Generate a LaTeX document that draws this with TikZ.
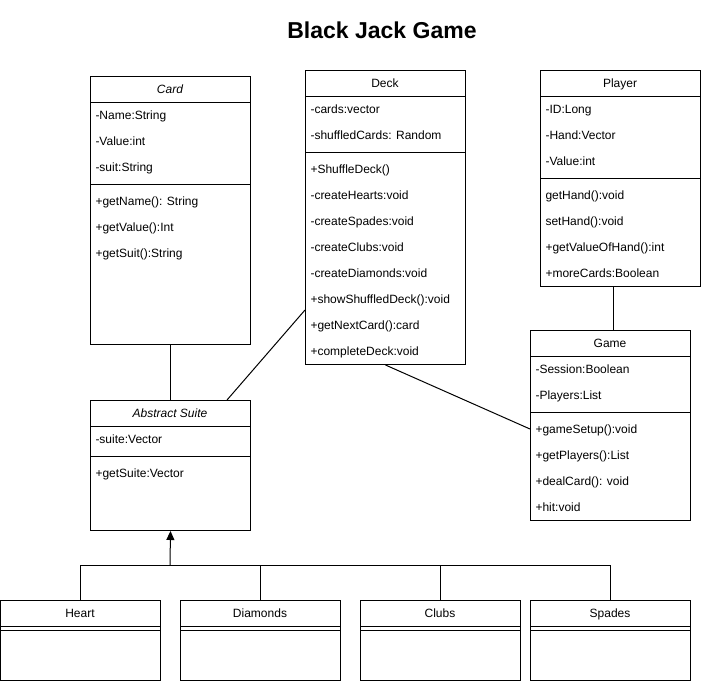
\documentclass[tikz,border=0pt]{standalone}
\usepackage{fontspec}
\setmainfont{Liberation Sans}
\usetikzlibrary{%
	calc,%
	arrows.meta
}

\begin{document}
\begin{tikzpicture}[x=1pt,y=-1pt,line width=1pt,
	classbox/.style={draw, anchor=north west, minimum width=160pt, inner sep=0pt},
	headtext/.style={inner sep=0pt, text height=9.6pt, text depth=1.6pt, font=\fontsize{12}{14}\selectfont},
	rowtext/.style={anchor=west, inner sep=0pt, text height=9.6pt, text depth=1.6pt, font=\fontsize{12}{14}\selectfont}]
	\useasboundingbox (0,0) rectangle (701,681);
	
	% Title
	\node[font=\bfseries\fontsize{23}{28}\selectfont] (title) at (382,30) {Black Jack Game};
	
	% Card
	\node[classbox, minimum height=268pt] (card) at (90,76) {};
	\node[headtext] (cardname) at (170,89) {\itshape Card};
	\draw (90,102) -- (250,102);
	\draw (90,184) -- (250,184);
	\foreach \t [count=\i] in {-Name:String, -Value:int, -suit:String} {
		\pgfmathsetmacro\yrow{115+26*(\i-1)}
		\node[rowtext] (carda\i) at (95,\yrow) {\t};
	}
	\foreach \t [count=\i] in {+getName(): String, +getValue():Int, +getSuit():String} {
		\pgfmathsetmacro\yrow{201+26*(\i-1)}
		\node[rowtext] (cardm\i) at (95,\yrow) {\t};
	}
	
	% Deck
	\node[classbox, minimum height=294pt] (deck) at (305,70) {};
	\node[headtext] (deckname) at (385,83) {Deck};
	\draw (305,96) -- (465,96);
	\draw (305,152) -- (465,152);
	\foreach \t [count=\i] in {-cards:vector, -shuffledCards: Random} {
		\pgfmathsetmacro\yrow{109+26*(\i-1)}
		\node[rowtext] (decka\i) at (310,\yrow) {\t};
	}
	\foreach \t [count=\i] in {+ShuffleDeck(), -createHearts:void, -createSpades:void,
		-createClubs:void, -createDiamonds:void, +showShuffledDeck():void,
		+getNextCard():card, +completeDeck:void} {
		\pgfmathsetmacro\yrow{169+26*(\i-1)}
		\node[rowtext] (deckm\i) at (310,\yrow) {\t};
	}
	
	% Player
	\node[classbox, minimum height=216pt] (player) at (540,70) {};
	\node[headtext] (playername) at (620,83) {Player};
	\draw (540,96) -- (700,96);
	\draw (540,178) -- (700,178);
	\foreach \t [count=\i] in {-ID:Long, -Hand:Vector, -Value:int} {
		\pgfmathsetmacro\yrow{109+26*(\i-1)}
		\node[rowtext] (playera\i) at (545,\yrow) {\t};
	}
	\foreach \t [count=\i] in {getHand():void, setHand():void, +getValueOfHand():int, +moreCards:Boolean} {
		\pgfmathsetmacro\yrow{195+26*(\i-1)}
		\node[rowtext] (playerm\i) at (545,\yrow) {\t};
	}
	
	% Game
	\node[classbox, minimum height=190pt] (game) at (530,330) {};
	\node[headtext] (gamename) at (610,343) {Game};
	\draw (530,356) -- (690,356);
	\draw (530,412) -- (690,412);
	\foreach \t [count=\i] in {-Session:Boolean, -Players:List} {
		\pgfmathsetmacro\yrow{369+26*(\i-1)}
		\node[rowtext] (gamea\i) at (535,\yrow) {\t};
	}
	\foreach \t [count=\i] in {+gameSetup():void, +getPlayers():List, +dealCard(): void, +hit:void} {
		\pgfmathsetmacro\yrow{429+26*(\i-1)}
		\node[rowtext] (gamem\i) at (535,\yrow) {\t};
	}
	
	% Abstract Suite
	\node[classbox, minimum height=130pt] (suite) at (90,400) {};
	\node[headtext] (suitename) at (170,413) {\itshape Abstract Suite};
	\draw (90,426) -- (250,426);
	\draw (90,456) -- (250,456);
	\node[rowtext] (suitea1) at (95,439) {-suite:Vector};
	\node[rowtext] (suitem1) at (95,473) {+getSuite:Vector};
	
	% the four suits
	\foreach \n/\x/\lbl in {heart/0/Heart, diamonds/180/Diamonds, clubs/360/Clubs, spades/530/Spades} {
		\node[classbox, minimum height=80pt] (\n) at (\x,600) {};
		\node[headtext] (\n name) at (\x+80,613) {\lbl};
		\draw (\x,626) -- (\x+160,626);
		\draw (\x,630) -- (\x+160,630);
	}
	
	% Associations
	\draw (card.south) -- (suite.north);
	\draw ($(deck.north west)+(0,240)$) -- ($(suite.north west)+(137,0)$);
	\draw (deck.south) -- ($(game.north west)+(0,99)$);
	\draw ($(player.south)+(-7,0)$) -- ($(game.north)+(3,0)$);
	
	% Inheritance
	\coordinate (bus) at (170,565);
	\foreach \n in {heart,diamonds,clubs,spades}
		\draw (\n.north) |- (bus);
	\draw[-{Triangle[length=9pt,width=8pt]}] (bus) -- (suite.south);
\end{tikzpicture}
\end{document}
